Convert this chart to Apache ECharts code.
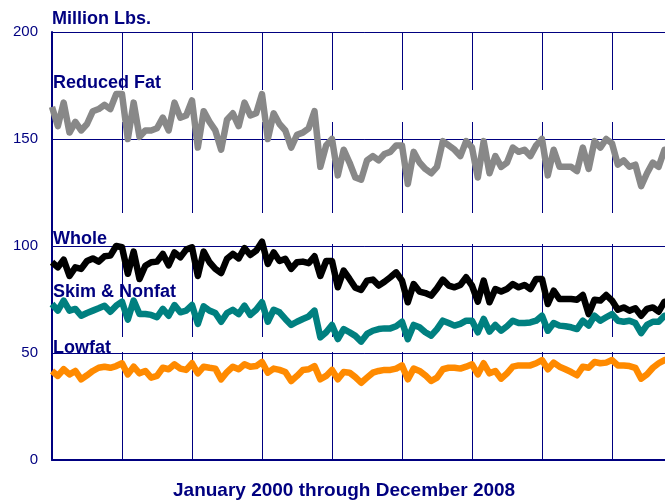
<!DOCTYPE html>
<html>
    <head>
        <meta charset="utf-8">
        <script src="https://cdn.jsdelivr.net/npm/echarts@6/dist/echarts.min.js"></script>
    </head>
    <body style="margin:0; overflow:hidden">
        <style>
            html, body {
                width: 665px;
                height: 501px;
                margin: 0;
                overflow: hidden;
                background: #fff;
            }
            #main {
                width: 700px;
                height: 501px;
            }
        </style>
        <div id="main"></div>
        <script>
            var years = [2000, 2001, 2002, 2003, 2004, 2005, 2006, 2007, 2008];
            var monthNames = ['Jan', 'Feb', 'Mar', 'Apr', 'May', 'Jun', 'Jul', 'Aug', 'Sep', 'Oct', 'Nov', 'Dec'];
            var yTicks = [0, 50, 100, 150, 200];

            var reducedFat = [
                165, 156, 167, 153, 158, 154, 157, 163, 164, 166, 164, 171,
                171, 150, 167, 151, 154, 154, 155, 160, 154, 167, 160, 161,
                168, 146, 163, 158, 154, 145, 159, 162, 156, 167, 161, 162,
                171, 150, 162, 157, 154, 146, 152, 153, 155, 163, 137, 147,
                150, 133, 145, 139, 132, 131, 140, 142, 140, 143, 144, 147,
                147, 129, 144, 139, 136, 134, 137, 149, 147, 145, 142, 149,
                146, 132, 149, 134, 142, 137, 139, 146, 144, 145, 142, 147,
                150, 133, 145, 137, 137, 137, 135, 146, 136, 149, 146, 150,
                148, 138, 140, 137, 138, 128, 134, 139, 137, 145, 145, 142
            ];
            var whole = [
                92.4, 90, 93.6, 86, 90, 89.3, 93, 94.2, 92.7, 95.2, 95.5, 100,
                99.4, 87, 97.4, 84.6, 90.8, 92.4, 92.7, 96.3, 91, 97, 94.7, 98.3,
                99.4, 86, 97.4, 92.4, 89.3, 87.4, 94, 96.3, 94.2, 99, 95.8, 97.8,
                102, 91.6, 97, 93, 94, 89.3, 92.4, 92.7, 92, 95.2, 86, 93,
                93, 80.7, 88.5, 84.6, 80.5, 79.5, 83.8, 84.3, 81.5, 83.3, 85.4, 87.7,
                83.8, 73.7, 82.2, 78.7, 78, 76.8, 80.2, 84.3, 81.5, 80.7, 81.8, 85.4,
                81.5, 74, 83.8, 73.7, 79.9, 78.7, 79.9, 82.2, 80.7, 81.8, 79.9, 84.6,
                84.6, 72.9, 79.1, 75.2, 75.2, 75.2, 74.9, 77.1, 68.2, 74.9, 74.5, 77.1,
                74.5, 70.2, 71.3, 69.8, 70.9, 67.4, 70.6, 71.3, 69.3, 74, 74, 72
            ];
            var skimNonfat = [
                72.9, 69.8, 74.5, 69.8, 70.6, 67.4, 68.7, 69.8, 70.9, 72.1, 69.3, 72.1,
                74, 65.6, 74.5, 68.2, 68.2, 67.8, 66.7, 70.6, 67.4, 72.4, 69, 69.8,
                72.4, 63.6, 71.8, 69.8, 68.7, 64.6, 68.7, 70.2, 68.2, 72.1, 67.8, 70.2,
                73.7, 64.6, 70.2, 69, 65.9, 63.1, 64.6, 65.9, 67.1, 69.8, 57.3, 59.7,
                63.1, 56.5, 61.2, 59.7, 58, 55.3, 58.9, 60.4, 61.2, 61.5, 61.5, 62.5,
                64.6, 56.5, 63.1, 62, 59.7, 58.1, 61.2, 65.1, 64, 62.8, 63.6, 65.1,
                65.1, 59.7, 65.9, 60, 63.1, 60.4, 62.5, 65.1, 64, 64, 64.3, 65.1,
                67.4, 60.4, 64, 62.8, 62.5, 62, 61.2, 65.1, 62.8, 67.4, 65.1, 66.7,
                68.2, 65.1, 64.6, 65.1, 64, 59.3, 63.1, 64.6, 64.6, 67.4, 67, 66
            ];
            var lowfat = [
                41.6, 39.3, 42.4, 40, 41.6, 37.7, 39.6, 41.6, 43.1, 43.6, 43.1, 43.9,
                45.2, 40, 43.6, 40.5, 41.6, 38.5, 39.3, 43.1, 42.4, 44.7, 42.7, 42.1,
                45.2, 40.5, 43.6, 43.1, 42.7, 37.7, 41.1, 43.6, 42.4, 44.7, 43.6, 43.9,
                45.8, 40.8, 42.7, 42.1, 41.1, 36.9, 39.3, 42.1, 42.4, 43.9, 37.7, 39.3,
                42.1, 37.7, 41.1, 40.8, 38.7, 36.1, 38.5, 40.8, 41.6, 42.1, 42.1, 42.7,
                44.2, 37.7, 42.7, 41.6, 39.6, 36.9, 38.5, 42.4, 43.1, 43.1, 42.7, 43.6,
                44.7, 40, 45.2, 40.5, 41.6, 38, 40.5, 43.6, 44.2, 44.2, 44.2, 45.2,
                46.7, 42.4, 45.5, 43.6, 42.4, 41.1, 39.6, 43.6, 43.1, 45.8, 45.2, 45.5,
                46.7, 44.2, 44.2, 43.9, 43.1, 38, 40, 43.1, 45.2, 46.7, 47, 46
            ];

            var months = [];
            years.forEach(function (y) {
                monthNames.forEach(function (m) {
                    months.push(m + ' ' + y);
                });
            });

            var navy = '#000080';
            var font = '"Liberation Sans", Arial, sans-serif';

            function seriesLine(name, data, color) {
                return {
                    name: name,
                    type: 'line',
                    data: data,
                    showSymbol: false,
                    symbol: 'none',
                    lineStyle: { color: color, width: 6.5, join: 'round' },
                    itemStyle: { color: color }
                };
            }

            // white strips behind the series labels (they cut the grid lines)
            function band(y, h) {
                return { type: 'rect', z: 1, silent: true,
                    shape: { x: 53, y: y, width: 640, height: h },
                    style: { fill: '#fff' } };
            }

            function label(text, y) {
                return { type: 'text', z: 10, left: 53, top: y,
                    style: { text: text, fill: navy, font: 'bold 18px ' + font } };
            }

            var chart = echarts.init(document.getElementById('main'));
            chart.setOption({
                animation: false,
                backgroundColor: '#fff',
                grid: { left: 52, top: 32, width: 107 * 70 / 12, height: 428, containLabel: false },
                xAxis: {
                    type: 'category',
                    data: months,
                    boundaryGap: false,
                    axisLine: { lineStyle: { color: navy, width: 2 } },
                    axisTick: { show: false },
                    axisLabel: { show: false },
                    splitLine: { show: true, interval: 11, lineStyle: { color: navy, width: 1 } }
                },
                yAxis: {
                    type: 'value',
                    min: yTicks[0],
                    max: yTicks[yTicks.length - 1],
                    interval: 50,
                    axisLine: { show: true, lineStyle: { color: navy, width: 2 } },
                    axisTick: { show: false },
                    axisLabel: { color: navy, fontSize: 15, fontFamily: font, margin: 14 },
                    splitLine: { show: true, lineStyle: { color: navy, width: 1 } }
                },
                graphic: [
                    band(90, 32),
                    band(213, 31),
                    band(337, 15),
                    { type: 'text', z: 10, left: 52, top: 10,
                        style: { text: 'Million Lbs.', fill: navy, font: 'bold 18px ' + font } },
                    label('Reduced Fat', 74),
                    label('Whole', 230),
                    label('Skim & Nonfat', 283),
                    label('Lowfat', 339),
                    { type: 'text', z: 10, left: 173, top: 481,
                        style: { text: 'January 2000 through December 2008', fill: navy, font: 'bold 19px ' + font } }
                ],
                series: [
                    seriesLine('Reduced Fat', reducedFat, '#888888'),
                    seriesLine('Whole', whole, '#000000'),
                    seriesLine('Skim & Nonfat', skimNonfat, '#008080'),
                    seriesLine('Lowfat', lowfat, '#ff8a00')
                ]
            });
        </script>
    </body>
</html>
